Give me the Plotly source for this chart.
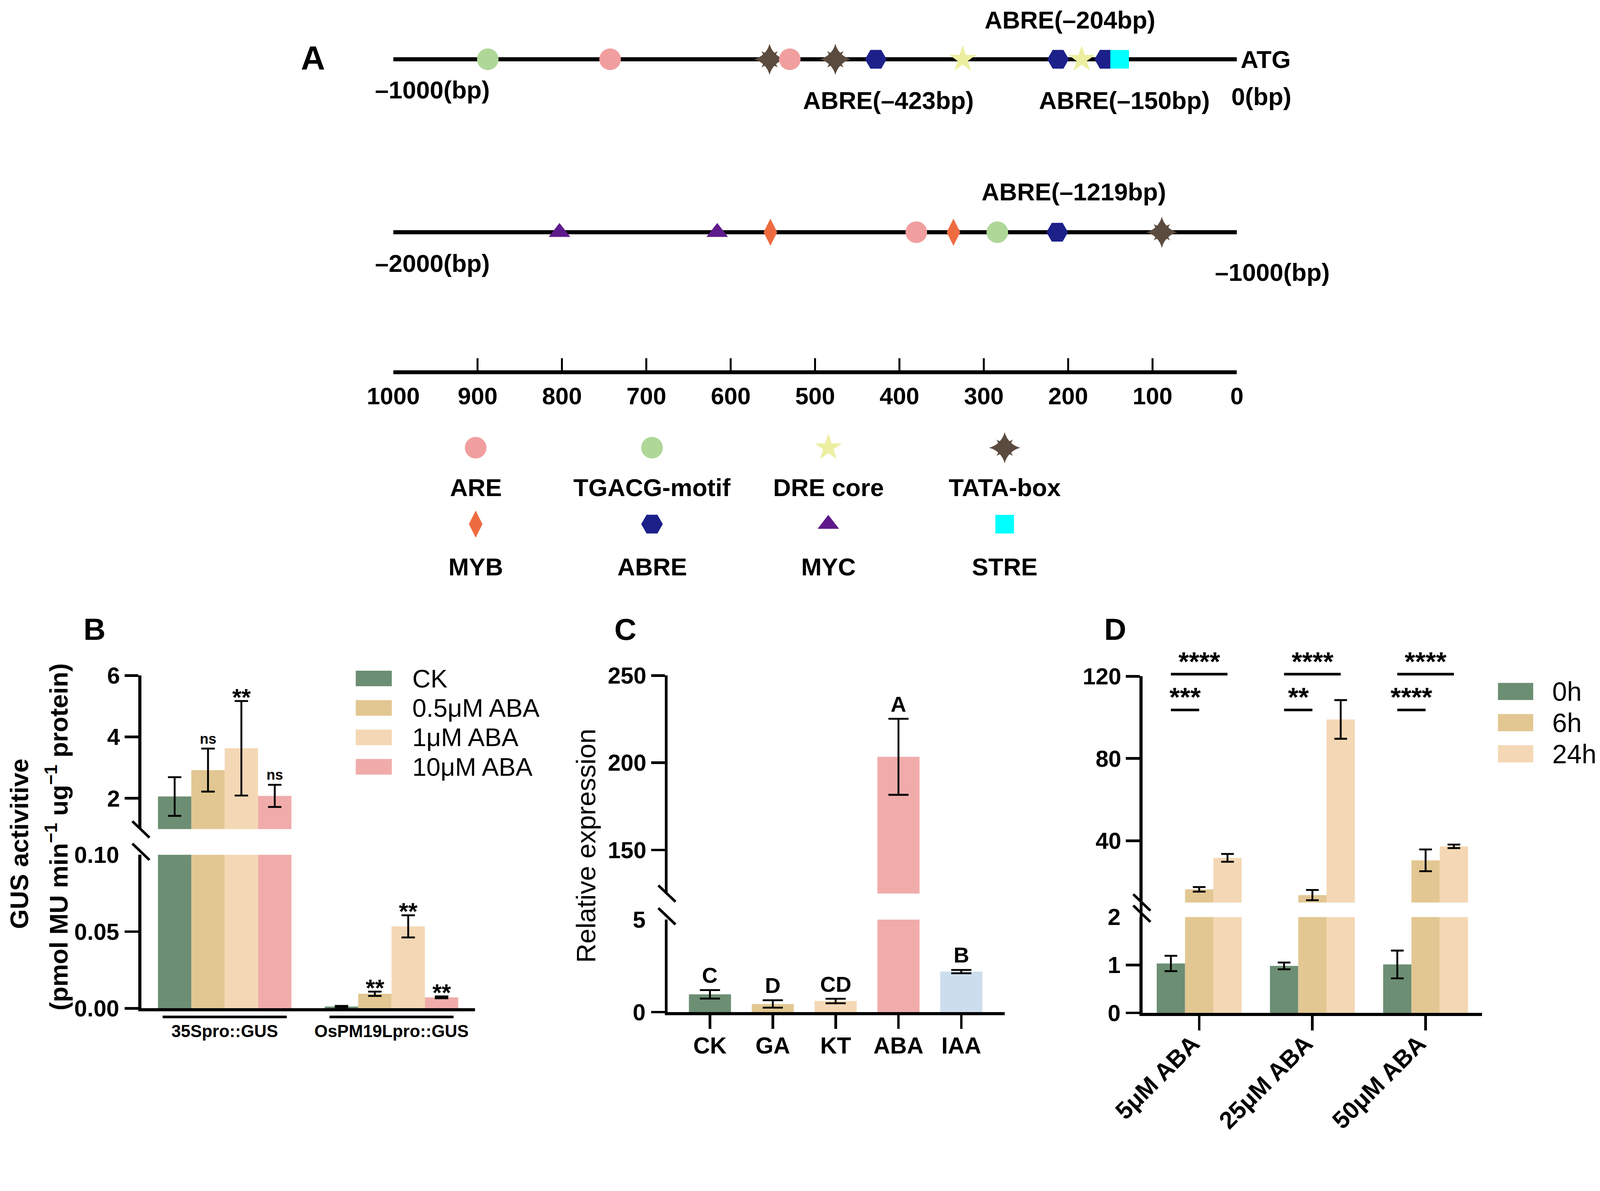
import plotly.graph_objects as go

W, H = 4292, 3049
FONT = "Liberation Sans, Arial, sans-serif"


def fx(p):
    return p / W


def fy(p):
    return 1 - p / H


# ---------------- data ----------------
# A: cis-acting elements along the promoter (bp upstream of ATG)
seg1_span = [-1000, 0]
seg1_types = ["TGACG-motif", "ARE", "TATA-box", "ARE", "TATA-box", "ABRE",
              "DRE core", "ABRE", "DRE core", "ABRE", "STRE"]
seg1_pos = [-888, -743, -554, -530, -476, -428, -325, -212, -184, -156, -139]
seg2_span = [-2000, -1000]
seg2_types = ["MYC", "MYC", "MYB", "ARE", "MYB", "TGACG-motif", "ABRE", "TATA-box"]
seg2_pos = [-1803, -1616, -1553, -1380, -1336, -1284, -1213, -1089]
scale_ticks = [0, 100, 200, 300, 400, 500, 600, 700, 800, 900, 1000]
key_rows = [["ARE", "TGACG-motif", "DRE core", "TATA-box"],
            ["MYB", "ABRE", "MYC", "STRE"]]

# B: GUS activity
b_groups = ["35Spro::GUS", "OsPM19Lpro::GUS"]
b_series = ["CK", "0.5μM ABA", "1μM ABA", "10μM ABA"]
b_mean = [[2.06, 0.0012], [2.92, 0.0095], [3.63, 0.0534], [2.08, 0.0072]]
b_sd = [[0.63, 0.0004], [0.70, 0.0014], [1.54, 0.0072], [0.36, 0.0006]]
b_sig = [["", ""], ["ns", "**"], ["**", "**"], ["ns", "**"]]

# C: relative expression under hormones
c_cats = ["CK", "GA", "KT", "ABA", "IAA"]
c_mean = [0.96, 0.44, 0.60, 203.4, 2.19]
c_sd = [0.23, 0.20, 0.12, 21.8, 0.09]
c_letters = ["C", "D", "CD", "A", "B"]

# D: time course under ABA
d_cats = ["5μM ABA", "25μM ABA", "50μM ABA"]
d_times = ["0h", "6h", "24h"]
d_mean = [[1.03, 0.98, 1.01], [16.4, 13.6, 30.5], [31.7, 99.0, 37.3]]
d_sd = [[0.16, 0.07, 0.29], [1.1, 2.5, 5.3], [1.9, 9.4, 0.85]]
d_sig_6h = ["***", "**", "****"]
d_sig_24h = ["****", "****", "****"]

# ---------------- styles ----------------
GREEN, TAN, PEACH, PINK, BLUE = "#6C8E73", "#E2C792", "#F4D8B5", "#F0ACAA", "#CCDEEE"
b_colors = [GREEN, TAN, PEACH, PINK]
c_colors = [GREEN, TAN, PEACH, PINK, BLUE]
d_colors = [GREEN, TAN, PEACH]

ELEM = {
    "ARE": ("circle", 58, "#F19E9F"),
    "TGACG-motif": ("circle", 58, "#AED798"),
    "DRE core": ("star", 54, "#ECEFA0"),
    "TATA-box": ("star-diamond", 60, "#5B4B3F"),
    "MYB": ("diamond-tall", 52, "#EE6B40"),
    "ABRE": ("hexagon2", 58, "#1C2089"),
    "MYC": ("triangle-up", 50, "#5E1A8A"),
    "STRE": ("square", 50, "#00FFFF"),
}

LW = 7.5
TICKLEN = 37
TICKFONT = dict(family=FONT, size=62, color="black", weight="bold")


def hidden(**kw):
    d = dict(visible=False, showgrid=False, zeroline=False, fixedrange=True,
             automargin=False)
    d.update(kw)
    return d


def valaxis(**kw):
    d = dict(showgrid=False, zeroline=False, showline=True, linewidth=LW,
             linecolor="black", ticks="outside", ticklen=TICKLEN, tickwidth=7,
             tickcolor="black", tickfont=TICKFONT, fixedrange=True,
             automargin=False, tickmode="array")
    d.update(kw)
    return d


def lowaxis(tickvals, **kw):
    # lower segment of a broken axis: the top value is labelled but has no tick
    d = valaxis(ticks="", ticklabelstandoff=TICKLEN + 2, tickvals=tickvals,
                minor=dict(tickmode="array", tickvals=tickvals[:-1], ticks="outside",
                           ticklen=TICKLEN, tickwidth=7, tickcolor="black",
                           showgrid=False))
    d.update(kw)
    return d


def catlabels(**kw):
    d = dict(showgrid=False, zeroline=False, showline=False, ticks="",
             fixedrange=True, automargin=False, tickmode="array")
    d.update(kw)
    return d


traces = []
shapes = []
annotations = []


def note(text, x, y, size, bold=True, **kw):
    d = dict(text=text, x=x, y=y, xref="paper", yref="paper", showarrow=False,
             font=dict(family=FONT, size=size, color="black",
                       weight="bold" if bold else "normal"),
             xanchor="center", yanchor="middle")
    d.update(kw)
    annotations.append(d)


def elem_markers(types, xs, ys, xa, ya):
    traces.append(go.Scatter(
        x=xs, y=ys, mode="markers", xaxis=xa, yaxis=ya, cliponaxis=False,
        showlegend=False, hoverinfo="skip",
        marker=dict(symbol=[ELEM[t][0] for t in types],
                    size=[ELEM[t][1] for t in types],
                    color=[ELEM[t][2] for t in types], opacity=1,
                    line=dict(width=0))))
    tx = [x for x, t in zip(xs, types) if t == "TATA-box"]
    ty = [y for y, t in zip(ys, types) if t == "TATA-box"]
    traces.append(go.Scatter(
        x=tx, y=ty, mode="markers", xaxis=xa, yaxis=ya, cliponaxis=False,
        showlegend=False, hoverinfo="skip",
        marker=dict(symbol="star-square", size=40, color=ELEM["TATA-box"][2],
                    opacity=1, line=dict(width=0))))


# ---------------- panel A ----------------
for span, types, pos, xa, ya in [(seg1_span, seg1_types, seg1_pos, "x", "y"),
                                 (seg2_span, seg2_types, seg2_pos, "x2", "y2")]:
    traces.append(go.Scatter(x=span, y=[0, 0], mode="lines", xaxis=xa, yaxis=ya,
                             line=dict(color="black", width=11),
                             showlegend=False, hoverinfo="skip"))
    elem_markers(types, pos, [0] * len(pos), xa, ya)

traces.append(go.Scatter(x=scale_ticks, y=[0] * len(scale_ticks), mode="markers",
                         marker=dict(opacity=0), xaxis="x3", yaxis="y3",
                         showlegend=False, hoverinfo="skip"))

key_types, key_x, key_y = [], [], []
for r, row in enumerate(key_rows):
    for c, name in enumerate(row):
        key_types.append(name)
        key_x.append(c)
        key_y.append(r)
        annotations.append(dict(text=name, x=c, y=r, xref="x4", yref="y4",
                                yshift=-107 - 7 * r, showarrow=False,
                                font=dict(family=FONT, size=66, color="black",
                                          weight="bold")))
elem_markers(key_types, key_x, key_y, "x4", "y4")

note("A", fx(839), fy(156), 90)
note("ATG", fx(3326), fy(159), 66, xanchor="left")
note("–1000(bp)", fx(1160), fy(241), 66)
note("0(bp)", fx(3383), fy(259), 66)
note("ABRE(–423bp)", fx(2383), fy(269), 66)
note("ABRE(–150bp)", fx(3016), fy(269), 66)
note("ABRE(–204bp)", fx(2870), fy(54), 66)
note("ABRE(–1219bp)", fx(2880), fy(515), 66)
note("–2000(bp)", fx(1160), fy(706), 66)
note("–1000(bp)", fx(3413), fy(730), 66)

# ---------------- panel B ----------------
BW = 0.2
for j, name in enumerate(b_series):
    off = -0.4 + BW * j
    for xa, ya in [("x5", "y5"), ("x6", "y6")]:
        traces.append(go.Bar(
            x=[0, 1], y=b_mean[j], width=BW, offset=off, xaxis=xa, yaxis=ya,
            marker=dict(color=b_colors[j], line=dict(width=0)),
            error_y=dict(type="data", array=b_sd[j], color="black",
                         thickness=5, width=18),
            showlegend=False, hoverinfo="skip"))
    for i in range(2):
        s = b_sig[j][i]
        if s:
            annotations.append(dict(
                text=s, x=i + off + BW / 2, y=b_mean[j][i] + b_sd[j][i],
                xref="x5" if i == 0 else "x6", yref="y5" if i == 0 else "y6",
                showarrow=False, yanchor="middle",
                yshift=26 if s == "ns" else 10,
                font=dict(family=FONT, size=38 if s == "ns" else 64,
                          color="black", weight="bold")))

traces.append(go.Bar(x=[1] * len(b_series), y=b_series, orientation="h",
                     width=0.53, marker=dict(color=b_colors, line=dict(width=0)),
                     xaxis="x7", yaxis="y7", showlegend=False, hoverinfo="skip"))

for i in range(len(b_groups)):
    shapes.append(dict(type="line", xref="x6", yref="paper",
                       x0=i - 0.372, x1=i + 0.372, y0=fy(2728), y1=fy(2728),
                       line=dict(color="black", width=7)))

note("B", fx(253), fy(1688), 82)
note("GUS activitive", fx(51), fy(2264), 68, textangle=-90)
note("(pmol MU min<sup>−1</sup> ug<sup>−1</sup> protein)", fx(153), fy(2245), 68,
     textangle=-90)

# ---------------- panel C ----------------
for xa, ya in [("x8", "y8"), ("x9", "y9")]:
    traces.append(go.Bar(
        x=list(range(len(c_cats))), y=c_mean, width=0.67, xaxis=xa, yaxis=ya,
        marker=dict(color=c_colors, line=dict(width=0)),
        error_y=dict(type="data", array=c_sd, color="black", thickness=5, width=27),
        showlegend=False, hoverinfo="skip"))
for i, lab in enumerate(c_letters):
    upper = c_mean[i] > 5
    annotations.append(dict(
        text=lab, x=i, y=c_mean[i] + c_sd[i],
        xref="x8" if upper else "x9", yref="y8" if upper else "y9",
        showarrow=False, yanchor="middle", yshift=40,
        font=dict(family=FONT, size=58, color="black", weight="bold")))

note("C", fx(1677), fy(1688), 82)
note("Relative expression", fx(1572), fy(2269), 72, bold=False, textangle=-90)

# ---------------- panel D ----------------
DW = 0.25
for j, name in enumerate(d_times):
    off = -0.375 + DW * j
    for xa, ya in [("x10", "y10"), ("x11", "y11")]:
        traces.append(go.Bar(
            x=list(range(len(d_cats))), y=d_mean[j], width=DW, offset=off,
            xaxis=xa, yaxis=ya,
            marker=dict(color=d_colors[j], line=dict(width=0)),
            error_y=dict(type="data", array=d_sd[j], color="black",
                         thickness=5, width=17),
            showlegend=False, hoverinfo="skip"))

traces.append(go.Bar(x=[1] * len(d_times), y=d_times, orientation="h",
                     width=0.55, marker=dict(color=d_colors, line=dict(width=0)),
                     xaxis="x12", yaxis="y12", showlegend=False, hoverinfo="skip"))

D_LO, D_HI = 10, 120
LONG_Y, SHORT_Y = 121, 103.6
for i in range(len(d_cats)):
    for (x0, x1, yv, lab) in [(i - DW, i + DW, LONG_Y, d_sig_24h[i]),
                              (i - DW, i, SHORT_Y, d_sig_6h[i])]:
        yd = (yv - D_LO) / (D_HI - D_LO)
        shapes.append(dict(type="line", xref="x10", yref="y10 domain",
                           x0=x0, x1=x1, y0=yd, y1=yd,
                           line=dict(color="black", width=7)))
        annotations.append(dict(
            text=lab, x=(x0 + x1) / 2, y=yd, xref="x10", yref="y10 domain",
            showarrow=False, yanchor="middle", yshift=34,
            font=dict(family=FONT, size=72, color="black", weight="bold")))

note("D", fx(2991), fy(1688), 82)

# ---------------- axis breaks ----------------
for cx, cy in [(378, 2225), (378, 2285), (1789, 2397), (1789, 2458),
               (3063, 2421), (3063, 2451)]:
    shapes.append(dict(type="line", xref="paper", yref="paper",
                       x0=fx(cx - 23), y0=fy(cy - 22), x1=fx(cx + 23), y1=fy(cy + 22),
                       line=dict(color="black", width=7)))
shapes.append(dict(type="line", xref="paper", yref="paper",
                   x0=fx(3061), x1=fx(3061), y0=fy(2421), y1=fy(2462),
                   line=dict(color="black", width=LW)))

# ---------------- layout ----------------
A_X = [fx(1055), fx(3318)]
layout = dict(
    width=W, height=H, autosize=False, template="none",
    margin=dict(l=0, r=0, t=0, b=0, pad=0, autoexpand=False),
    paper_bgcolor="white", plot_bgcolor="rgba(0,0,0,0)",
    barmode="overlay", showlegend=False,
    font=dict(family=FONT, color="black"),
    shapes=shapes, annotations=annotations,
)

# A
layout["xaxis"] = hidden(domain=A_X, range=seg1_span, anchor="y")
layout["yaxis"] = hidden(domain=[fy(219), fy(99)], range=[-1, 1], anchor="x")
layout["xaxis2"] = hidden(domain=A_X, range=seg2_span, anchor="y2")
layout["yaxis2"] = hidden(domain=[fy(683), fy(563)], range=[-1, 1], anchor="x2")
layout["xaxis3"] = dict(domain=A_X, range=[1000, 0], anchor="y3", showgrid=False,
                        zeroline=False, showline=True, linewidth=11, linecolor="black",
                        ticks="inside", ticklen=32, tickwidth=5, tickcolor="black",
                        tickmode="array", tickvals=scale_ticks, ticklabelstandoff=4,
                        tickfont=dict(family=FONT, size=64, color="black", weight="bold"),
                        fixedrange=True, automargin=False)
layout["yaxis3"] = hidden(domain=[fy(993), fy(940)], range=[0, 1], anchor="x3")
layout["xaxis4"] = hidden(domain=[fx(1039.5), fx(2931.5)], range=[-0.5, 3.5], anchor="y4")
layout["yaxis4"] = hidden(domain=[fy(1508.5), fy(1098.5)], range=[1.5, -0.5], anchor="x4")

# B
B_X = [fx(379), fx(1274)]
layout["xaxis5"] = hidden(domain=B_X, range=[-0.5, 1.5], anchor="y5")
layout["yaxis5"] = valaxis(domain=[fy(2224), fy(1812)], range=[1, 6],
                           tickvals=[2, 4, 6], anchor="x5")
layout["xaxis6"] = dict(domain=B_X, range=[-0.5, 1.5], anchor="y6", showgrid=False,
                        zeroline=False, showline=True, linewidth=LW, linecolor="black",
                        ticks="", tickmode="array", tickvals=[0, 1], ticktext=b_groups,
                        ticklabelstandoff=14,
                        tickfont=dict(family=FONT, size=46, color="black", weight="bold"),
                        fixedrange=True, automargin=False)
layout["yaxis6"] = lowaxis([0, 0.05, 0.1], domain=[fy(2705), fy(2293)], range=[0, 0.1],
                           tickformat=".2f", anchor="x6")
layout["xaxis7"] = hidden(domain=[fx(954), fx(1051)], range=[0, 1], anchor="y7")
layout["yaxis7"] = catlabels(domain=[fy(2096.5), fy(1780.5)], range=[3.5, -0.5],
                             type="category", anchor="x7", side="right",
                             tickvals=b_series, ticktext=b_series,
                             ticklabelstandoff=54,
                             tickfont=dict(family=FONT, size=68, color="black"))

# C
C_X = [fx(1791), fx(2695)]
layout["xaxis8"] = hidden(domain=C_X, range=[-0.673, 4.69], anchor="y8")
layout["yaxis8"] = valaxis(domain=[fy(2397), fy(1812)], range=[125, 250],
                           tickvals=[150, 200, 250], anchor="x8")
layout["xaxis9"] = dict(domain=C_X, range=[-0.673, 4.69], anchor="y9", showgrid=False,
                        zeroline=False, showline=True, linewidth=LW, linecolor="black",
                        ticks="outside", ticklen=TICKLEN, tickwidth=7, tickcolor="black",
                        tickmode="array", tickvals=list(range(len(c_cats))),
                        ticktext=c_cats, ticklabelstandoff=-8,
                        tickfont=dict(family=FONT, size=62, color="black", weight="bold"),
                        fixedrange=True, automargin=False)
layout["yaxis9"] = lowaxis([0, 5], domain=[fy(2715), fy(2467)], range=[0, 5],
                           anchor="x9")

# D
D_X = [fx(3065), fx(3976)]
layout["xaxis10"] = hidden(domain=D_X, range=[-0.5, 2.5], anchor="y10")
layout["yaxis10"] = valaxis(domain=[fy(2421), fy(1814)], range=[D_LO, D_HI],
                            tickvals=[40, 80, 120], anchor="x10")
layout["xaxis11"] = dict(domain=D_X, range=[-0.5, 2.5], anchor="y11", showgrid=False,
                         zeroline=False, showline=True, linewidth=LW, linecolor="black",
                         ticks="outside", ticklen=39, tickwidth=7, tickcolor="black",
                         tickmode="array", tickvals=list(range(len(d_cats))),
                         ticktext=d_cats, tickangle=-45, ticklabelstandoff=-28,
                         ticklabelshift=-18,
                         tickfont=dict(family=FONT, size=65, color="black", weight="bold"),
                         fixedrange=True, automargin=False)
layout["yaxis11"] = lowaxis([0, 1, 2], domain=[fy(2717), fy(2460)], range=[0, 2],
                            anchor="x11")
layout["xaxis12"] = hidden(domain=[fx(4018), fx(4113)], range=[0, 1], anchor="y12")
layout["yaxis12"] = catlabels(domain=[fy(2064), fy(1813)], range=[2.5, -0.5],
                              type="category", anchor="x12", side="right",
                              tickvals=d_times, ticktext=d_times,
                              ticklabelstandoff=50,
                              tickfont=dict(family=FONT, size=71, color="black"))

fig = go.Figure(data=traces, layout=layout)

# scale the fixed-size figure uniformly so it spans the width of the viewport
FIT_JS = """
var gd = document.getElementById('{plot_id}');
document.documentElement.style.margin = '0';
document.body.style.margin = '0';
document.body.style.overflow = 'hidden';
function fitFigure() {
    var s = window.innerWidth / %d;
    gd.style.position = 'fixed';
    gd.style.left = '0px';
    gd.style.top = '0px';
    gd.style.transformOrigin = '0 0';
    gd.style.transform = 'scale(' + s + ')';
}
fitFigure();
window.addEventListener('resize', fitFigure);
""" % W

fig.write_html("out.html", post_script=FIT_JS, config={"displayModeBar": False})
